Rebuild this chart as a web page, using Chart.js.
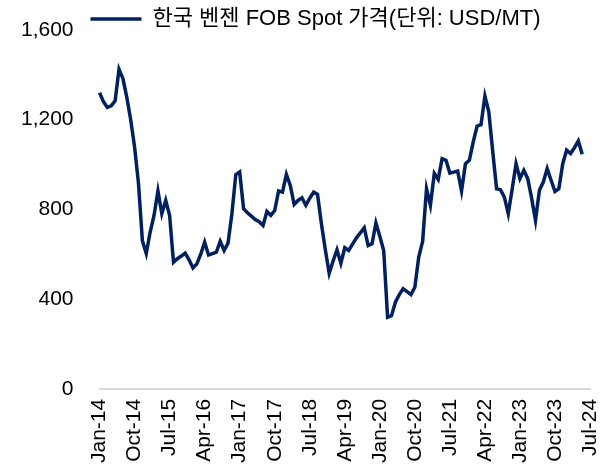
<!DOCTYPE html>
<html>
<head>
<meta charset="utf-8">
<script src="https://cdn.jsdelivr.net/npm/chart.js@4.4.1/dist/chart.umd.min.js"></script>
<style>
  html, body { margin: 0; padding: 0; background: #fff; }
  #wrap { width: 615px; height: 469px; }
</style>
</head>
<body>
<div id="wrap"><canvas id="chart"></canvas></div>
<script>
// monthly labels Jan-14 .. Jul-24
const months = ['Jan', 'Feb', 'Mar', 'Apr', 'May', 'Jun', 'Jul', 'Aug', 'Sep', 'Oct', 'Nov', 'Dec'];
const labels = [];
for (let y = 14; y <= 24; y++) {
    months.forEach((m, i) => {
        if (y === 24 && i > 6) return;
        labels.push(m + '-' + y);
    });
}

const seriesName = '한국 벤젠 FOB Spot 가격(단위: USD/MT)';

// USD/MT (Jan-14 .. May-24)
const price2014 = [1320, 1280, 1255, 1262, 1284, 1425, 1384, 1300, 1200, 1078, 916, 661];
const price2015 = [603, 699, 773, 882, 781, 840, 773, 564, 580, 592, 605, 575];
const price2016 = [539, 557, 600, 654, 597, 603, 609, 658, 617, 649, 780, 955];
const price2017 = [967, 803, 785, 770, 755, 745, 728, 791, 773, 795, 882, 877];
const price2018 = [956, 907, 822, 840, 852, 818, 850, 877, 867, 736, 620, 515];
const price2019 = [570, 620, 560, 629, 617, 645, 673, 695, 718, 639, 647, 739];
const price2020 = [680, 617, 319, 326, 386, 420, 446, 433, 420, 453, 587, 657];
const price2021 = [892, 818, 960, 934, 1026, 1019, 962, 966, 971, 882, 1004, 1019];
const price2022 = [1101, 1172, 1178, 1305, 1235, 1060, 892, 888, 855, 781, 890, 1004];
const price2023 = [937, 974, 937, 850, 751, 885, 922, 982, 930, 880, 892, 1004];
const price2024 = [1064, 1049, 1075, 1105, 1046];

const prices = [].concat(price2014, price2015, price2016, price2017, price2018,
    price2019, price2020, price2021, price2022, price2023, price2024);

const yTicks = [0, 400, 800, 1200, 1600];

const fontFamily = '"Liberation Sans", Arial, "Noto Sans CJK KR", sans-serif';

// move the legend to where the original has it
const legendShift = {
    id: 'legendShift',
    afterLayout(chart) {
        const lg = chart.legend;
        lg.left += 23;
        lg.right += 23;
        lg.top += 1;
        lg.bottom += 1;
    }
};

new Chart(document.getElementById('chart'), {
    type: 'line',
    data: {
        labels: labels,
        datasets: [{
            label: seriesName,
            data: prices,
            borderColor: '#002060',
            backgroundColor: '#002060',
            borderWidth: 3.5,
            pointRadius: 0,
            tension: 0,
            fill: false
        }]
    },
    options: {
        responsive: true,
        maintainAspectRatio: false,
        animation: false,
        layout: { padding: { left: -5, right: 25, top: 5, bottom: -4 } },
        plugins: {
            legend: {
                position: 'top',
                maxHeight: 25,
                labels: {
                    usePointStyle: true,
                    pointStyle: 'line',
                    pointStyleWidth: 51,
                    padding: 2,
                    color: '#000',
                    font: { family: fontFamily, size: 22 }
                }
            },
            tooltip: { enabled: false }
        },
        scales: {
            x: {
                offset: false,
                afterFit: axis => { axis.paddingRight = 0; },
                grid: { display: false, drawTicks: false },
                border: { display: true, color: '#d9d9d9', width: 2 },
                ticks: {
                    autoSkip: false,
                    maxRotation: 90,
                    minRotation: 90,
                    padding: 10,
                    color: '#000',
                    font: { family: fontFamily, size: 21 },
                    callback: function(val, i) {
                        return i % 9 === 0 ? labels[i] : null;
                    }
                }
            },
            y: {
                min: 0,
                max: 1600,
                afterBuildTicks: axis => { axis.ticks = yTicks.map(v => ({ value: v })); },
                afterFit: axis => { axis.paddingTop = 0; },
                grid: { display: false, drawTicks: false },
                border: { display: false },
                ticks: {
                    padding: 26,
                    color: '#000',
                    font: { family: fontFamily, size: 21 },
                    callback: v => v.toLocaleString('en-US')
                }
            }
        }
    },
    plugins: [legendShift]
});
</script>
</body>
</html>
